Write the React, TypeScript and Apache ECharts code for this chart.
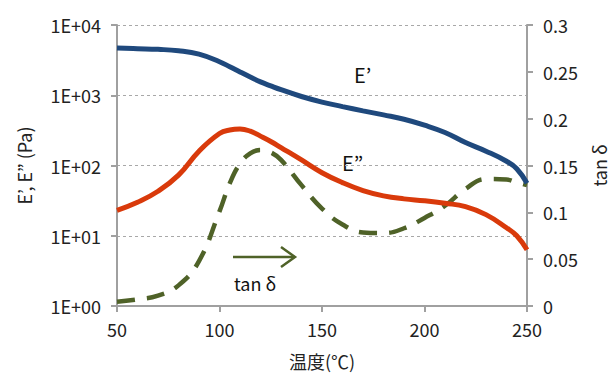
import React, { useEffect, useRef } from "react";
import * as echarts from "echarts";

// Temperature (°C)
const temperature = [50, 60, 70, 80, 90, 100, 105, 110, 115, 120, 125, 130, 140, 150, 160, 170, 180, 190, 200, 210, 220, 230, 240, 245, 250];
// E' (Pa)
const storageModulus = [4700, 4600, 4500, 4300, 3850, 3000, 2550, 2150, 1820, 1550, 1360, 1200, 960, 800, 690, 600, 525, 455, 375, 295, 212, 160, 115, 90, 56];
// E'' (Pa)
const lossModulus = [23, 30, 43, 73, 160, 285, 320, 330, 308, 262, 220, 180, 120, 79, 57, 44, 37, 33.5, 31.5, 29, 26, 20, 13, 10, 6.3];
// tan δ
const tanDelta = [0.0046, 0.007, 0.011, 0.022, 0.048, 0.101, 0.131, 0.152, 0.163, 0.1666, 0.164, 0.156, 0.129, 0.104, 0.087, 0.0785, 0.0778, 0.083, 0.094, 0.107, 0.125, 0.1355, 0.135, 0.132, 0.129];

const leftTicks = [1, 10, 100, 1000, 10000];

const FONT = "'Noto Sans CJK JP', 'Noto Sans', sans-serif";

export default function App() {
  const ref = useRef<HTMLDivElement>(null);
  useEffect(() => {
    if (!ref.current) return;
    const chart = echarts.init(ref.current, undefined, { renderer: "svg" });
    const pair = (vals: number[]) => temperature.map((t, i) => [t, vals[i]]);
    chart.setOption({
      animation: false,
      backgroundColor: "#ffffff",
      textStyle: { fontFamily: FONT },
      grid: { left: 117, right: 85, top: 25, bottom: 67, outerBoundsMode: "none", containLabel: false },
      xAxis: {
        type: "value",
        min: 50,
        max: 250,
        interval: 50,
        name: "温度(℃)",
        nameLocation: "middle",
        nameGap: 46,
        nameTextStyle: { fontSize: 18, color: "#222", fontFamily: FONT },
        axisLine: { show: true, lineStyle: { color: "#a0a0a0", width: 2 } },
        axisTick: { show: true, length: 6, lineStyle: { color: "#a0a0a0", width: 2 } },
        axisLabel: { fontSize: 18, color: "#222", margin: 14, fontFamily: FONT },
        splitLine: { show: false },
      },
      yAxis: [
        {
          type: "log",
          logBase: 10,
          min: leftTicks[0],
          max: leftTicks[leftTicks.length - 1],
          name: "E’, E” (Pa)",
          nameLocation: "middle",
          nameGap: 84,
          nameRotate: 90,
          nameTextStyle: { fontSize: 18, color: "#222", fontFamily: FONT },
          axisLine: { show: true, lineStyle: { color: "#a0a0a0", width: 2 } },
          axisTick: { show: true, length: 6, lineStyle: { color: "#a0a0a0", width: 2 } },
          axisLabel: {
            fontSize: 18,
            color: "#222",
            margin: 16,
            fontFamily: FONT,
            formatter: (v: number) => {
              const e = Math.round(Math.log10(v));
              return "1E+" + String(e).padStart(2, "0");
            },
          },
          splitLine: { show: true, lineStyle: { color: "#a8a8a8", type: [3, 3], width: 1 } },
        },
        {
          type: "value",
          min: 0,
          max: 0.3,
          interval: 0.05,
          name: "tan δ",
          nameLocation: "middle",
          nameGap: 63,
          nameRotate: 90,
          nameTextStyle: { fontSize: 18, color: "#222", fontFamily: FONT },
          axisLine: { show: true, lineStyle: { color: "#a0a0a0", width: 2 } },
          axisTick: { show: true, length: 6, lineStyle: { color: "#a0a0a0", width: 2 } },
          axisLabel: { fontSize: 18, color: "#222", margin: 16, fontFamily: FONT },
          splitLine: { show: false },
        },
      ],
      series: [
        {
          name: "tan δ",
          type: "line",
          yAxisIndex: 1,
          data: pair(tanDelta),
          smooth: 0.45,
          symbol: "none",
          lineStyle: { color: "#4F6228", width: 4.5, type: [18, 12] },
          z: 2,
        },
        {
          name: "E''",
          type: "line",
          yAxisIndex: 0,
          data: pair(lossModulus),
          smooth: 0.45,
          symbol: "none",
          lineStyle: { color: "#D93A0B", width: 5 },
          z: 3,
        },
        {
          name: "E'",
          type: "line",
          yAxisIndex: 0,
          data: pair(storageModulus),
          smooth: 0.45,
          symbol: "none",
          lineStyle: { color: "#1F497D", width: 5 },
          z: 4,
        },
      ],
      graphic: [
        {
          type: "text",
          left: 354,
          top: 64,
          style: { text: "E’", fontSize: 20, fill: "#111", fontFamily: FONT },
        },
        {
          type: "text",
          left: 342,
          top: 152,
          style: { text: "E”", fontSize: 20, fill: "#111", fontFamily: FONT },
        },
        {
          type: "line",
          shape: { x1: 233, y1: 257, x2: 294, y2: 257 },
          style: { stroke: "#4F6228", lineWidth: 2.5 },
        },
        {
          type: "polyline",
          shape: { points: [[281, 247], [295, 257], [281, 267]] },
          style: { stroke: "#4F6228", lineWidth: 2.5, fill: "none" },
        },
        {
          type: "text",
          left: 234,
          top: 274,
          style: { text: "tan δ", fontSize: 18, fill: "#111", fontFamily: FONT },
        },
      ],
    });
    return () => chart.dispose();
  }, []);
  return (
    <div
      ref={ref}
      style={{ position: "fixed", left: 0, top: 0, width: 612, height: 373 }}
    />
  );
}
